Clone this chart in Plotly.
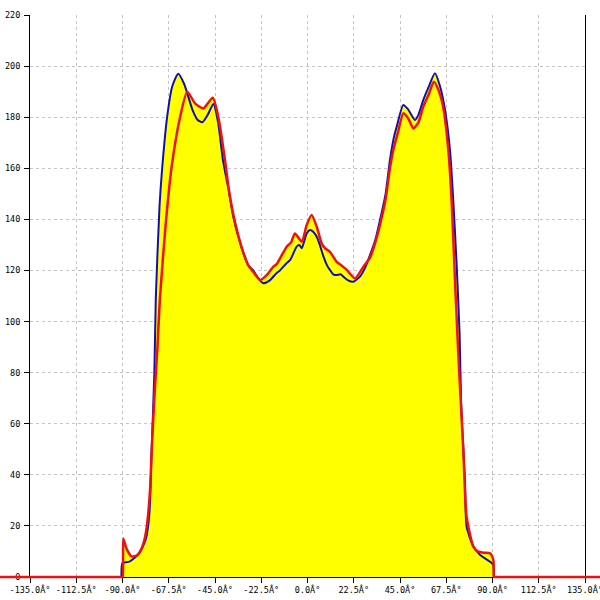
import plotly.graph_objects as go

# ---- data ----
blue_x = [-90.5, -90.0, -86.6, -81.7, -78.6, -76.9, -75.8, -74.5, -73.8, -72.0, -70.7, -68.3,
          -65.8, -62.9, -60.0, -56.0, -53.5, -51.2, -48.5, -45.8, -43.5, -41.1, -38.5, -36.1,
          -33.6, -31.2, -28.8, -26.4, -24.0, -21.5, -18.5, -15.0, -13.4, -10.0, -8.5, -5.3,
          -4.0, -2.8, -0.4, 1.2, 3.0, 4.5, 6.0, 7.7, 9.5, 10.9, 12.5, 14.2, 16.0, 17.4, 20.0,
          22.3, 25.5, 28.0, 30.4, 33.0, 35.3, 38.0, 40.1, 42.0, 43.4, 46.6, 49.0, 52.3, 54.0,
          56.3, 59.0, 62.0, 64.5, 66.9, 69.3, 70.9, 72.6, 74.0, 74.7, 75.5, 76.6, 77.4, 80.7,
          84.0, 88.8, 90.4, 90.6]
blue_y = [0, 5.5, 6, 9.4, 15, 25, 50, 80, 109, 145, 160, 180,
          192, 197, 193, 183, 179, 178, 181, 185.2, 178, 163, 152, 141,
          133, 126.8, 122, 120, 117, 115, 116, 119, 120, 123, 124, 129.3,
          130, 128.7, 134.5, 135.8, 135, 133.2, 130, 125.6, 122, 120.2, 118.5, 118.2, 118.5, 117.6, 116,
          115.6, 117.6, 121, 126, 132, 139.8, 150, 163.2, 172, 176.3, 184.8, 183, 178.9, 181,
          186.7, 192, 197.2, 192, 182.8, 167.2, 147.6, 121.5, 95, 69, 55, 38, 19.7, 11.9,
          8.6, 6, 4.7, 0]

red_x = [-150.0, -140.0, -130.0, -120.0, -110.0, -100.0, -95.0, -91.0, -90.3, -89.9,
         -89.6, -88.0, -85.5, -83.0, -81.5, -79.5, -78.2, -76.6, -75.8, -74.5,
         -73.0, -71.8, -69.0, -66.1, -62.0, -58.5, -54.7, -50.7, -46.1, -43.4, -40.1, -38.5,
         -36.1, -33.6, -31.2, -28.8, -26.4, -23.1, -19.5, -16.6, -15.0, -12.5, -10.1, -8.0,
         -6.1, -2.8, -0.4, 2.0, 4.5, 6.9, 8.5, 10.9, 14.2, 16.5, 19.1, 23.1, 27.2, 30.4,
         33.0, 35.3, 38.0, 40.1, 42.0, 44.0, 46.6, 49.0, 51.5, 54.0, 56.3, 59.0, 61.5, 64.0,
         66.0, 68.5, 70.1, 71.8, 73.5, 74.8, 75.8, 77.4, 80.7, 83.1, 86.0, 88.8, 90.4, 90.7,
         91.0, 92.0, 95.0, 100.0, 110.0, 120.0, 130.0, 140.0, 150.0]
red_y = [0, 0, 0, 0, 0, 0, 0, 0, 0, 0,
         15, 11, 8, 8.5, 9.9, 14, 19.7, 34, 49.7, 70,
         90, 109, 138, 160.6, 180, 190, 185.4, 183.4, 187.6, 180.2, 163, 153,
         142, 133.5, 127, 122, 119.5, 116.3, 118.5, 121.5, 122.5, 126, 129.3, 131,
         134.5, 131.3, 137.8, 141.7, 137.1, 130.6, 128.7, 127.3, 123.4, 122, 120.2, 116.9, 121.5, 125,
         131, 138, 148, 160, 168, 174, 181.5, 179.5, 175.6, 178, 184.1, 189, 193.9, 190,
         184, 167.2, 147.6, 115, 85, 65, 49.7, 23.6, 11.9, 9.9, 9.5, 9.3, 6.7, 0,
         0, 0, 0, 0, 0, 0, 0, 0, 0]

x_ticks = [-135.0, -112.5, -90.0, -67.5, -45.0, -22.5, 0.0, 22.5, 45.0, 67.5, 90.0, 112.5, 135.0]
x_tick_text = [f"{v:.1f}\u00c2\u00b0" for v in x_ticks]
y_ticks = [0, 20, 40, 60, 80, 100, 120, 140, 160, 180, 200, 220]

YELLOW = "#ffff00"
BLUE = "#1010b0"
RED = "#ee1111"
GRID = "#c4c4c4"
SMOOTH = 0.6

# pixel frame of the plot area
W = H = 600
L, R = 30, 585
TOP, BOT = 15, 577
PAD = 10  # extra room below the axis for the overlay subplot
xscale = (R - L) / 270.0
yscale = (BOT - TOP) / 220.0
plot_h = H - TOP - (H - BOT - PAD)

fig = go.Figure()

# yellow area (union of both series)
for xs, ys in ((blue_x, blue_y), (red_x, red_y)):
    fig.add_trace(go.Scatter(x=xs, y=ys, mode="lines", fill="tozeroy",
                             fillcolor=YELLOW,
                             line=dict(width=0, shape="spline", smoothing=SMOOTH),
                             hoverinfo="skip", showlegend=False, xaxis="x", yaxis="y"))
# blue line
fig.add_trace(go.Scatter(x=blue_x, y=blue_y, mode="lines",
                         line=dict(color=BLUE, width=2, shape="spline", smoothing=SMOOTH),
                         showlegend=False, xaxis="x", yaxis="y"))
# red line (on a full-width overlay subplot, so it runs past the axes)
fig.add_trace(go.Scatter(x=red_x, y=red_y, mode="lines",
                         line=dict(color=RED, width=2.5, shape="spline", smoothing=SMOOTH),
                         showlegend=False, xaxis="x2", yaxis="y2"))

tick_font = dict(family="DejaVu Sans Mono", size=8.5, color="black")

fig.update_layout(
    width=W, height=H,
    margin=dict(l=0, r=0, t=TOP, b=H - BOT - PAD, autoexpand=False),
    paper_bgcolor="white", plot_bgcolor="rgba(0,0,0,0)",
    showlegend=False,
    xaxis=dict(domain=[L / W, R / W], range=[-135, 135],
               tickvals=x_ticks, ticktext=x_tick_text, tickangle=0,
               ticklabeloverflow="allow",
               showgrid=True, gridcolor=GRID, griddash="3px,3px", gridwidth=1,
               showline=True, linecolor="black", linewidth=1,
               ticks="outside", ticklen=5, tickcolor="black",
               tickfont=tick_font, zeroline=False, anchor="y", automargin=False),
    yaxis=dict(domain=[PAD / plot_h, 1], range=[0, 220], tickvals=y_ticks,
               showgrid=True, gridcolor=GRID, griddash="3px,3px", gridwidth=1,
               showline=True, mirror=True, linecolor="black", linewidth=1,
               ticks="outside", ticklen=5, tickcolor="black",
               ticklabelstandoff=2, ticklabeloverflow="allow",
               tickfont=tick_font, zeroline=False, anchor="x", automargin=False),
    yaxis3=dict(overlaying="y", range=[0, 220], tickvals=y_ticks,
                showgrid=False, showline=False, showticklabels=False,
                ticks="inside", ticklen=5, tickcolor="black", zeroline=False,
                anchor="x", side="left", automargin=False),
    xaxis2=dict(domain=[0, 1], range=[-135 - L / xscale, 135 + (W - R) / xscale],
                visible=False, anchor="y2", automargin=False),
    yaxis2=dict(domain=[0, 1], range=[-PAD / yscale, 220], visible=False, anchor="x2",
                automargin=False),
)

fig.write_html("out.html", config={"displayModeBar": False},
               post_script="document.body.style.margin='0px';")
